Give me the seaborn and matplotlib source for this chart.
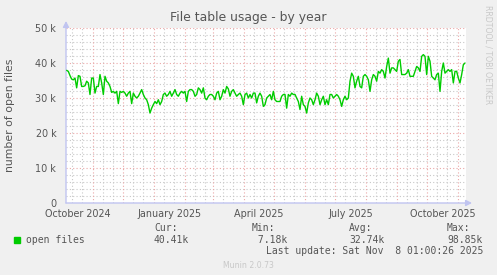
import matplotlib
matplotlib.use("Agg")
import numpy as np
import pandas as pd
import matplotlib.pyplot as plt
import seaborn as sns

# ---------------- data ----------------
title = "File table usage - by year"
ylabel = "number of open files"
series_name = "open files"
series_color = "#00CC00"
start_time = "2024-10-05 16:00"
sample_step = "40h"
axis_start = "2024-10-05"
axis_end = "2025-11-09"

values_k = [
    37.9, 37.6, 36.4, 35.4, 35.2, 35.7, 32.9, 36.4, 36.2, 33.3, 33.3, 33.5, 34.8, 34.3, 31.0, 35.7,
    35.7, 31.4, 33.3, 33.3, 36.7, 34.3, 31.0, 36.2, 34.8, 34.3, 33.3, 31.6, 31.9, 31.4, 31.9, 28.4,
    31.9, 31.6, 31.9, 31.4, 30.5, 31.4, 31.9, 28.4, 31.4, 30.5, 30.0, 30.5, 31.4, 32.4, 31.0, 30.0,
    29.5, 28.1, 25.7, 27.1, 28.1, 29.0, 28.4, 29.5, 28.1, 29.0, 31.0, 31.4, 30.5, 31.0, 31.9, 30.5,
    31.4, 32.4, 31.0, 30.5, 31.4, 31.9, 31.4, 31.9, 29.0, 31.9, 32.4, 32.4, 31.9, 30.5, 31.0, 32.9,
    32.4, 31.4, 32.9, 30.0, 29.5, 30.5, 31.0, 31.0, 30.5, 29.5, 31.4, 31.9, 29.5, 30.5, 32.4, 31.4,
    33.3, 32.6, 30.5, 31.9, 32.4, 31.4, 30.5, 31.0, 31.4, 30.5, 28.1, 31.0, 31.4, 30.0, 31.0, 30.0,
    31.4, 31.4, 28.6, 30.5, 31.4, 30.5, 27.6, 28.1, 30.0, 30.5,
    31.0, 29.5, 31.9, 29.5, 29.0, 29.0, 29.0, 30.5, 31.0, 31.0, 27.1, 31.0, 30.5, 31.4, 31.0, 31.0,
    30.0, 29.0, 26.7, 30.5, 28.1, 27.6, 25.7, 28.6, 30.0, 29.5, 28.1, 29.5, 31.4, 30.5, 28.1, 29.5,
    30.5, 28.1, 29.5, 28.1, 31.0, 31.0, 30.0, 30.5, 31.0, 30.5, 29.5, 27.6, 29.5, 30.5, 29.5, 30.0,
    34.8, 37.1, 36.2, 32.9, 34.8, 36.2, 33.3, 32.9, 36.2, 36.7, 36.2, 35.2, 31.9, 35.2, 36.7, 36.2,
    34.8, 37.6, 37.1, 38.1, 37.6, 35.7, 39.0, 41.4, 37.1, 38.6, 38.6, 38.1, 37.6, 40.5, 41.0, 36.7,
    36.7, 36.7, 37.1, 38.1, 36.2, 36.2, 36.2, 37.6, 39.0, 38.6, 37.6, 41.9, 42.4, 41.9, 36.7, 41.9,
    40.5, 36.2, 35.7, 35.2, 36.7, 37.1, 31.9, 37.6, 40.0, 37.1, 37.6, 38.1, 37.6, 38.1, 34.3, 37.6,
    37.6, 35.7, 34.3, 36.7, 39.5, 40.0,
]

xtick_months = ["2024-10", "2025-01", "2025-04", "2025-07", "2025-10"]
xtick_labels = ["October 2024", "January 2025", "April 2025", "July 2025", "October 2025"]
ytick_values = [0, 10000, 20000, 30000, 40000, 50000]
ytick_labels = ["0", "10 k", "20 k", "30 k", "40 k", "50 k"]

stat_names = ["Cur:", "Min:", "Avg:", "Max:"]
stat_values = ["40.41k", " 7.18k", "32.74k", "98.85k"]
last_update = "Last update: Sat Nov  8 01:00:26 2025"
footer = "Munin 2.0.73"
side_text = "RRDTOOL / TOBI OETIKER"

# ---------------- figure ----------------
W, H = 497, 275
BG = "#F0F0F0"
TXT = "#555555"
MGRID = "#EBA8A8"
GRID = "#C8C8C8"
AXIS = "#C0C4F0"

sns.set_style("white")
plt.rcParams["font.family"] = ["DejaVu Sans"]

fig = plt.figure(figsize=(W / 100, H / 100), dpi=100, facecolor=BG)
L, T, PW, PH = 66, 28, 400, 175
ax = fig.add_axes([L / W, 1 - (T + PH) / H, PW / W, PH / H])
ax.set_facecolor("white")

df = pd.DataFrame({
    "date": pd.date_range(start_time, periods=len(values_k), freq=sample_step),
    "value": np.array(values_k) * 1000.0,
})

x0 = pd.Timestamp(axis_start)
x1 = pd.Timestamp(axis_end)

# grid (minor gray, major red)
ax.set_xlim(x0, x1)
ax.set_ylim(0, 50000)
month_starts = pd.date_range("2024-10-01", "2025-11-30", freq="MS")
minor_days = []
for m in month_starts:
    for d in (10, 20):
        minor_days.append(m + pd.Timedelta(days=d))
minor_days = [d for d in minor_days if x0 < d < x1]
majors = [m for m in month_starts if x0 < m < x1]
dash = (0, (1, 2))
ax.vlines(minor_days, 0, 50000, colors=GRID, linewidth=0.8, linestyles=dash, zorder=1)
for yv in range(2000, 50001, 2000):
    if yv % 10000:
        ax.axhline(yv, color=GRID, linewidth=0.8, linestyle=dash, zorder=1)
ax.vlines(majors, 0, 50000, colors=MGRID, linewidth=0.8, linestyles=dash, zorder=2)
for yv in ytick_values[1:]:
    ax.axhline(yv, color=MGRID, linewidth=0.8, linestyle=dash, zorder=2)

sns.lineplot(data=df, x="date", y="value", ax=ax, color=series_color,
             linewidth=1.0, zorder=5, legend=False)

ax.set_xlim(x0, x1)
ax.set_ylim(0, 50000)
for s in ax.spines.values():
    s.set_visible(False)

# ticks
mid_months = [pd.Timestamp(m + "-01") + (pd.Timestamp(m + "-01") + pd.offsets.MonthBegin(1) - pd.Timestamp(m + "-01")) / 2
              for m in xtick_months]
ax.set_xticks(mid_months)
ax.set_xticklabels(xtick_labels)
ax.set_xticks(majors, minor=True)
ax.tick_params(axis="x", which="major", length=0, pad=4, labelsize=6.9, labelcolor=TXT)
ax.tick_params(axis="x", which="minor", length=3, color=MGRID, width=0.8)
ax.set_yticks(ytick_values)
ax.set_yticklabels(ytick_labels)
ax.tick_params(axis="y", which="major", length=3, color=MGRID, width=0.8, pad=4,
               labelsize=6.9, labelcolor=TXT)
ax.set_xlabel("")
ax.set_ylabel("")

# axis lines with arrows
ax.annotate("", xy=(0, 1.04), xycoords="axes fraction", xytext=(0, 0), textcoords="axes fraction",
            arrowprops=dict(arrowstyle="-|>,head_length=0.35,head_width=0.18", color=AXIS, lw=1, shrinkA=0, shrinkB=0))
ax.annotate("", xy=(1.015, 0), xycoords="axes fraction", xytext=(0, 0), textcoords="axes fraction",
            arrowprops=dict(arrowstyle="-|>,head_length=0.35,head_width=0.18", color=AXIS, lw=1, shrinkA=0, shrinkB=0))


def fx(x):
    return x / W


def fy(y):
    return 1 - y / H


fig.text(fx(248), fy(18), title, ha="center", va="center", fontsize=8.9, color=TXT)
fig.text(fx(10), fy(115), ylabel, ha="center", va="center", rotation=90, fontsize=7.8, color=TXT)
fig.text(fx(488), fy(5), side_text, ha="center", va="top", rotation=270, fontsize=5.6, color="#C8C8C8")

mono = "DejaVu Sans Mono"
fig.patches.append(plt.Rectangle((fx(14), fy(243)), 6 / W, 6 / H, transform=fig.transFigure,
                                 color=series_color, figure=fig))
fig.text(fx(26), fy(240), series_name, ha="left", va="center", fontsize=7.0, family=mono, color=TXT)
stat_x = [154, 252, 349, 447]
for sx, nm, vl in zip(stat_x, stat_names, stat_values):
    fig.text(fx(sx), fy(228), nm, ha="left", va="center", fontsize=7.0, family=mono, color=TXT)
    fig.text(fx(sx), fy(240), vl, ha="left", va="center", fontsize=7.0, family=mono, color=TXT)
fig.text(fx(483), fy(251), last_update, ha="right", va="center", fontsize=7.0, family=mono, color=TXT)
fig.text(fx(248), fy(265), footer, ha="center", va="center", fontsize=5.6, color="#C8C8C8")

fig.savefig("out.png", dpi=100, facecolor=BG)
